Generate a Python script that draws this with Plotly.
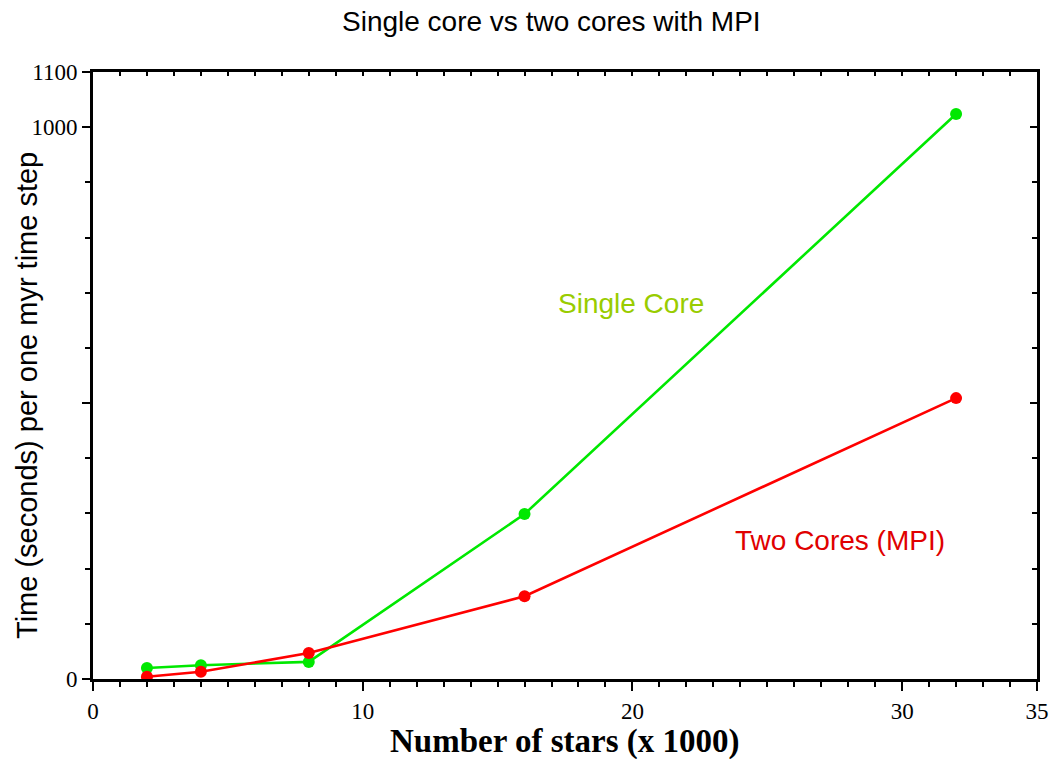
import plotly.graph_objects as go

# Benchmark data: number of stars (thousands) vs seconds per Myr time step
stars_k = [2, 4, 8, 16, 32]
single_core = [20, 25, 31, 299, 1024]
two_cores_mpi = [4, 13, 47, 150, 509]

x_tick_vals = [0, 10, 20, 30, 35]
x_tick_text = ["0", "10", "20", "30", "35"]
y_tick_vals = [0, 500, 1000, 1100]
y_tick_text = ["0", "", "1000", "1100"]

GREEN = "#00e800"
RED = "#ff0000"
SERIF = "Liberation Serif, Times New Roman, serif"
SANS = "Liberation Sans, Arial, sans-serif"

# plot-area edges in pixels
LEFT, RIGHT, TOP, BOTTOM = 93, 1037, 72, 679
PW, PH = RIGHT - LEFT, BOTTOM - TOP

fig = go.Figure()

fig.add_trace(go.Scatter(
    x=stars_k, y=single_core, mode="lines+markers", name="Single Core",
    line=dict(color=GREEN, width=2.6), marker=dict(color=GREEN, size=12),
))
fig.add_trace(go.Scatter(
    x=stars_k, y=two_cores_mpi, mode="lines+markers", name="Two Cores (MPI)",
    line=dict(color=RED, width=2.6), marker=dict(color=RED, size=12),
))

# Empty helper traces so the secondary tick axes get drawn
fig.add_trace(go.Scatter(x=[None], y=[None], xaxis="x2", yaxis="y", showlegend=False, hoverinfo="skip"))
fig.add_trace(go.Scatter(x=[None], y=[None], xaxis="x3", yaxis="y2", showlegend=False, hoverinfo="skip"))

XR = [0, 35]
YR = [0, 1100]

fig.update_layout(
    width=1051, height=759,
    margin=dict(l=LEFT, r=1051 - RIGHT, t=TOP, b=759 - BOTTOM, autoexpand=False),
    paper_bgcolor="white", plot_bgcolor="white",
    showlegend=False,
    xaxis=dict(
        range=XR, showgrid=False, zeroline=False, automargin=False,
        showline=True, linecolor="black", linewidth=3,
        tickmode="array", tickvals=x_tick_vals, ticktext=x_tick_text,
        ticks="outside", ticklen=9, tickwidth=2, tickcolor="black",
        minor=dict(dtick=1, tick0=0, ticks="outside", ticklen=5, tickwidth=2, tickcolor="black"),
        tickfont=dict(family=SERIF, size=23, color="black"),
        ticklabeloverflow="allow",
    ),
    # medium ticks at the 5s
    xaxis2=dict(
        range=XR, overlaying="x", anchor="y", side="bottom", automargin=False,
        showgrid=False, zeroline=False, showline=False,
        tickmode="array", tickvals=[5, 15, 25], ticktext=["", "", ""],
        ticks="outside", ticklen=7, tickwidth=2, tickcolor="black",
    ),
    # top frame with inward ticks
    xaxis3=dict(
        range=XR, overlaying="x", anchor="y2", side="top", automargin=False,
        showgrid=False, zeroline=False,
        showline=True, linecolor="black", linewidth=3,
        tickmode="linear", tick0=0, dtick=1, showticklabels=False,
        ticks="inside", ticklen=4, tickwidth=2, tickcolor="black",
    ),
    yaxis=dict(
        range=YR, showgrid=False, zeroline=False, automargin=False,
        showline=True, linecolor="black", linewidth=3,
        tickmode="array", tickvals=y_tick_vals, ticktext=y_tick_text,
        ticks="outside", ticklen=8, tickwidth=2, tickcolor="black",
        minor=dict(dtick=100, tick0=0, ticks="outside", ticklen=5, tickwidth=2, tickcolor="black"),
        tickfont=dict(family=SERIF, size=23, color="black"),
        ticklabelstandoff=0,
    ),
    # right frame with inward ticks
    yaxis2=dict(
        range=YR, overlaying="y", anchor="x3", side="right", automargin=False,
        showgrid=False, zeroline=False,
        showline=True, linecolor="black", linewidth=3,
        tickmode="array", tickvals=[0, 500, 1000], ticktext=["", "", ""],
        ticks="inside", ticklen=7, tickwidth=2, tickcolor="black",
        minor=dict(dtick=100, tick0=0, ticks="inside", ticklen=5, tickwidth=2, tickcolor="black"),
    ),
)


def px_x(p):
    return (p - LEFT) / PW


def px_y(p):
    return (BOTTOM - p) / PH


fig.add_annotation(
    text="Single core vs two cores with MPI", xref="paper", yref="paper",
    x=px_x(551), y=px_y(21), showarrow=False,
    font=dict(family=SANS, size=28, color="black"), xanchor="center", yanchor="middle",
)
fig.add_annotation(
    text="<b>Number of stars (x 1000)</b>", xref="paper", yref="paper",
    x=px_x(565), y=px_y(741), showarrow=False,
    font=dict(family=SERIF, size=33, color="black"), xanchor="center", yanchor="middle",
)
fig.add_annotation(
    text="Time (seconds) per one myr time step", xref="paper", yref="paper",
    x=px_x(27), y=px_y(396), showarrow=False, textangle=-90,
    font=dict(family=SANS, size=29, color="black"), xanchor="center", yanchor="middle",
)
fig.add_annotation(
    text="Single Core", xref="paper", yref="paper", x=px_x(631), y=px_y(303), showarrow=False,
    font=dict(family=SANS, size=28, color="#99cc00"), xanchor="center", yanchor="middle",
)
fig.add_annotation(
    text="Two Cores (MPI)", xref="paper", yref="paper", x=px_x(840), y=px_y(540), showarrow=False,
    font=dict(family=SANS, size=28, color="#e00000"), xanchor="center", yanchor="middle",
)

fig.write_html("out.html")
